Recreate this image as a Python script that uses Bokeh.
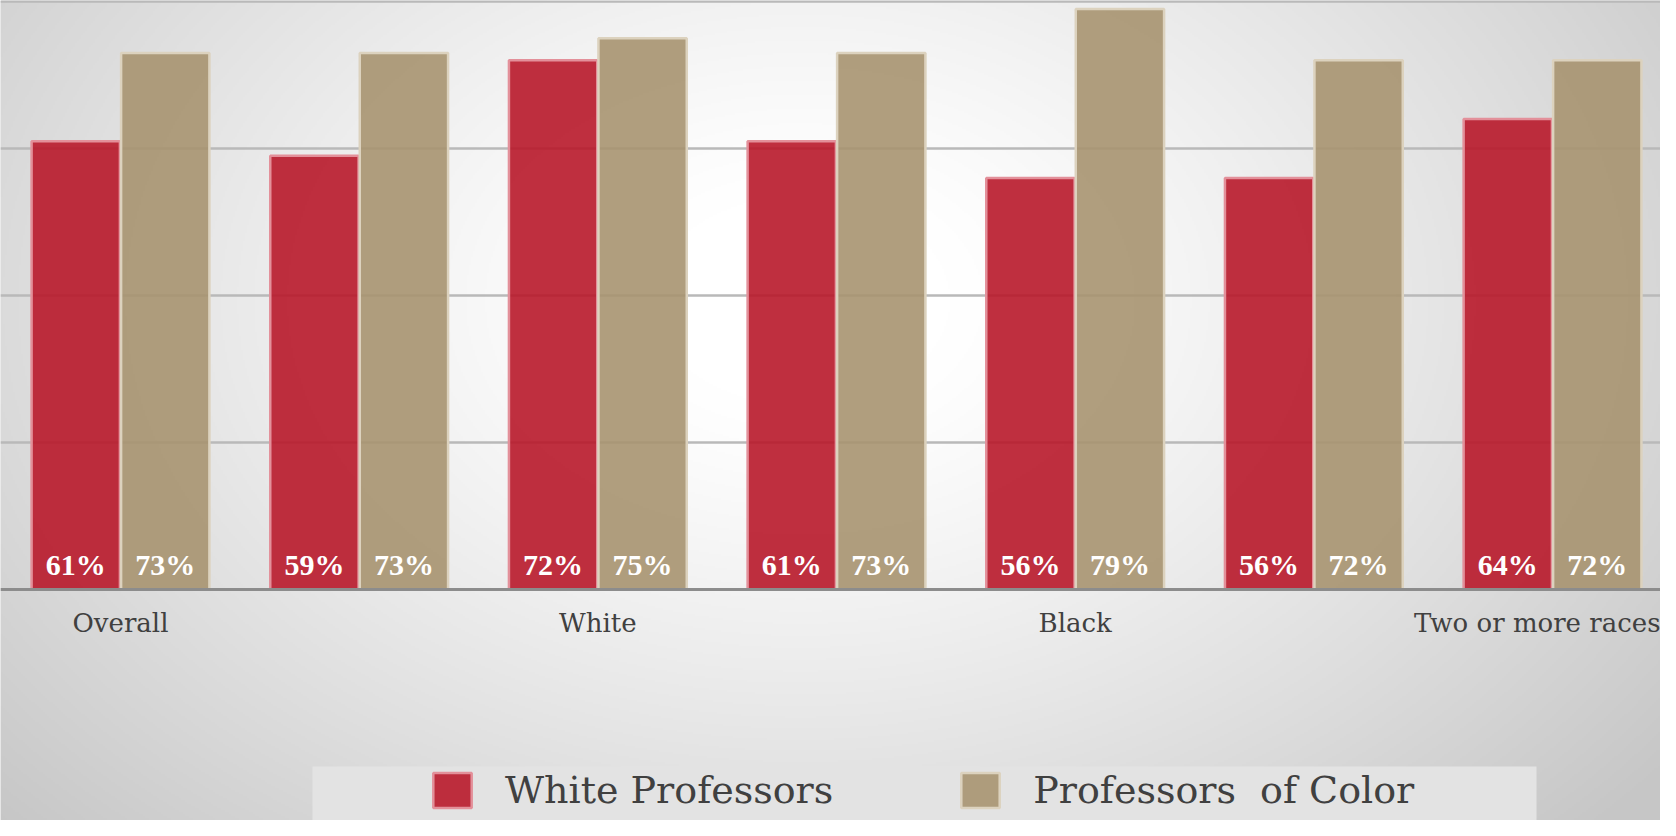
import numpy as np
from bokeh.plotting import figure
from bokeh.models import (ColumnDataSource, LinearAxis, Grid, FixedTicker, Range1d,
                          LabelSet, Legend, LegendItem, BoxAnnotation)
from bokeh.transform import dodge
from bokeh.embed import file_html
from bokeh.resources import INLINE

# ---- data ----
groups = ["Overall", "", "White", "", "Black", "", "Two or more races"]
white_prof = [0.61, 0.59, 0.72, 0.61, 0.56, 0.56, 0.64]
color_prof = [0.73, 0.73, 0.75, 0.73, 0.79, 0.72, 0.72]
series_names = ["White Professors", "Professors  of Color"]
grid_values = [0.2, 0.4, 0.6, 0.8]

RED, RED_EDGE = "#B8182A", "#E3909A"
TAN, TAN_EDGE = "#A79470", "#DCD2BE"
TEXT = "#404040"
FONT = "DejaVu Serif"

W, H = 1660, 820
xr = Range1d(-0.5028, 6.4524)
yr = Range1d(-0.3143, 0.8014)

p = figure(width=W, height=H, x_range=xr, y_range=yr, output_backend="svg",
           toolbar_location=None, x_axis_location=None, y_axis_location=None,
           min_border=0, outline_line_color=None,
           background_fill_color="#e4e4e4", border_fill_color="#e4e4e4")
# drop default grids
p.center = [r for r in p.center if not isinstance(r, Grid)]

# radial gradient background (styling only)
ny, nx = H // 2, W // 2
gx = (np.arange(nx) + 0.5) * 2
gy = (np.arange(ny) + 0.5) * 2
X, Y = np.meshgrid(gx, gy)
d = np.sqrt(((X - 800) / 1000.0) ** 2 + ((Y - 300) / 700.0) ** 2)
t = np.clip((d - 0.15) / 0.95, 0, 1) ** 1.2
v = (255 - 57 * t).astype(np.uint32)
img = ((255 << 24) | (v << 16) | (v << 8) | v).astype(np.uint32)[::-1]
p.image_rgba(image=[img], x=xr.start, y=yr.start, dw=xr.end - xr.start,
             dh=yr.end - yr.start, level="image")

grid = Grid(dimension=1, ticker=FixedTicker(ticks=grid_values),
            grid_line_color="#b9b9b9", grid_line_width=2.5)
p.add_layout(grid)

src = ColumnDataSource(dict(
    x=list(range(len(groups))),
    white=white_prof, color=color_prof,
    wl=[f"{round(a * 100)}%" for a in white_prof],
    cl=[f"{round(a * 100)}%" for a in color_prof],
))

bw = 0.37
r1 = p.vbar(x=dodge("x", -0.1875), top="white", bottom=0, width=bw, source=src,
            fill_color=RED, fill_alpha=0.9, line_color=RED_EDGE, line_width=2.5)
r2 = p.vbar(x=dodge("x", 0.1875), top="color", bottom=0, width=bw, source=src,
            fill_color=TAN, fill_alpha=0.9, line_color=TAN_EDGE, line_width=2.5)

for field, off in (("wl", -0.1875), ("cl", 0.1875)):
    p.add_layout(LabelSet(x=dodge("x", off), y=0, text=field, source=src,
                          text_align="center", text_baseline="alphabetic",
                          y_offset=15, text_color="white", text_font=FONT,
                          text_font_style="bold", text_font_size="30px"))

xaxis = LinearAxis(
    ticker=FixedTicker(ticks=[i for i, g in enumerate(groups) if g]),
    major_label_overrides={i: g for i, g in enumerate(groups) if g},
    fixed_location=0,
    axis_line_color="#8c8c8c", axis_line_width=3,
    major_tick_line_color=None, minor_tick_line_color=None,
    major_label_text_font=FONT, major_label_text_font_size="26px",
    major_label_text_color=TEXT, major_label_standoff=12)
p.add_layout(xaxis, "below")

# legend band (decoration), positioned from canvas pixels via the ranges
def px_to_x(px):
    return xr.start + px / W * (xr.end - xr.start)

def py_to_y(py):
    return yr.end - py / H * (yr.end - yr.start)

band = BoxAnnotation(left=px_to_x(312), right=px_to_x(1536),
                     top=py_to_y(766), bottom=yr.start,
                     fill_color="#e3e3e3", fill_alpha=1.0, line_color=None)
p.add_layout(band)

legend = Legend(items=[LegendItem(label=series_names[0], renderers=[r1]),
                       LegendItem(label=series_names[1], renderers=[r2])],
                orientation="horizontal", location=(428, 8), padding=0, margin=0,
                spacing=123, label_standoff=29, glyph_width=48, glyph_height=44,
                label_text_font=FONT, label_text_font_size="38px",
                label_text_color=TEXT, background_fill_alpha=0,
                border_line_color=None)
p.add_layout(legend)

open("out.html", "w").write(file_html(p, INLINE))
